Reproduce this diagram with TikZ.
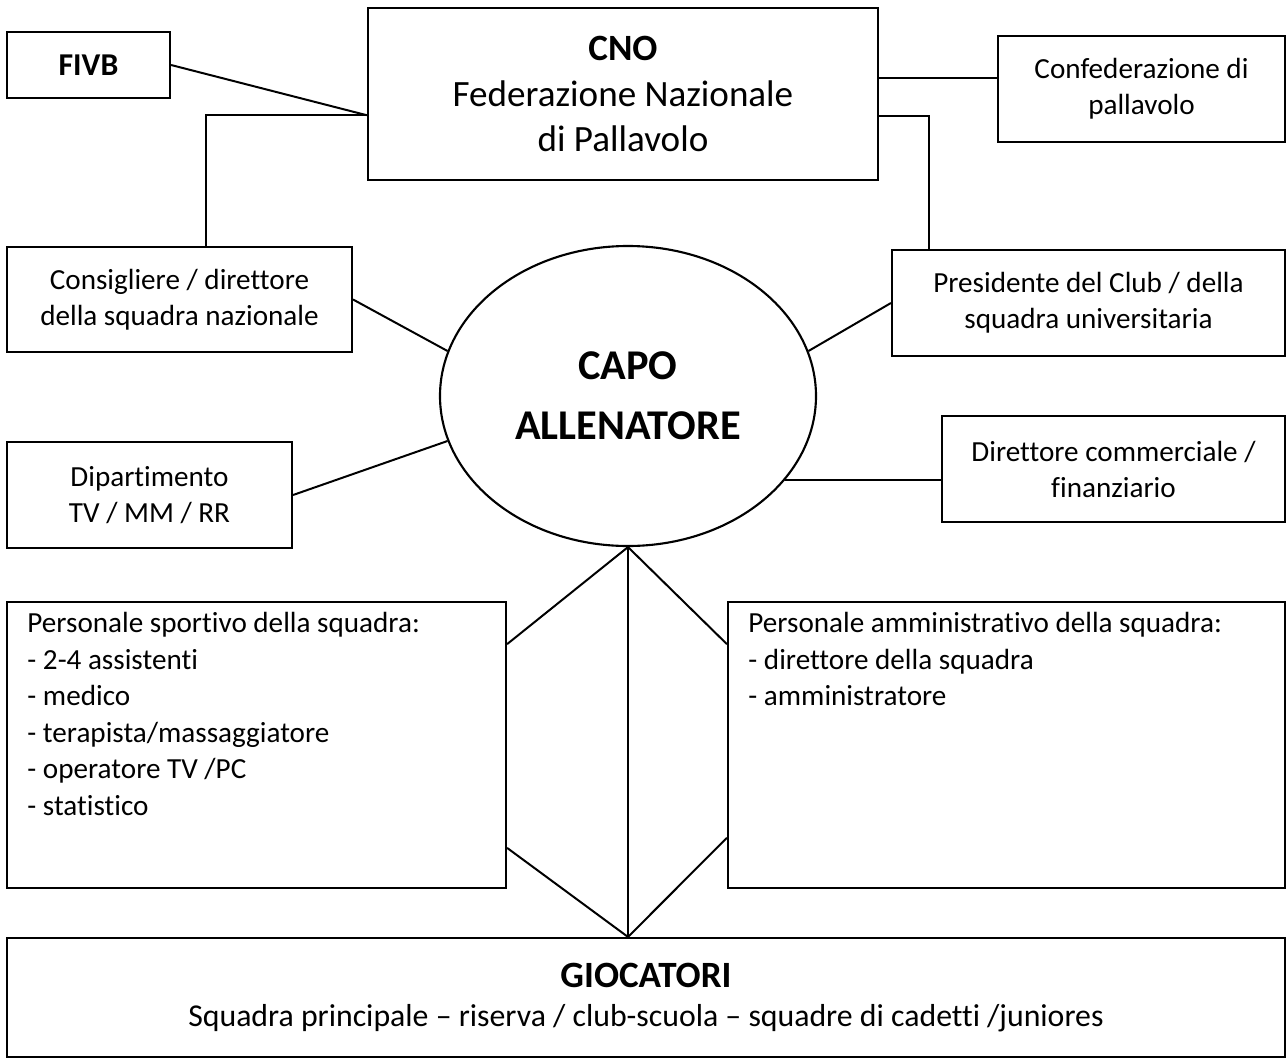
\documentclass[tikz,border=0pt]{standalone}
\usepackage{fontspec}
\setmainfont[Ligatures=NoCommon]{Carlito}
\usepackage{tikz}
\usetikzlibrary{shapes.geometric, calc}
\tikzset{
  obox/.style ={rectangle, draw=black, line width=0.8pt, fill=white, align=center, inner sep=2pt,
                font=\fontsize{11}{13.6}\selectfont},
  boxsize/.style 2 args={minimum width=#1*0.3774pt, minimum height=#2*0.3774pt},
  ocap/.style ={ellipse, draw=black, line width=0.8pt, align=center, inner sep=0pt,
                font=\bfseries\fontsize{16}{22.6}\selectfont},
  olist/.style={anchor=north west, align=left, inner sep=0pt, font=\fontsize{11}{13.8}\selectfont},
  olink/.style={line width=0.75pt, color=black},
}
\begin{document}
\begin{tikzpicture}[x=0.3774pt, y=-0.3774pt]
  \useasboundingbox (0,0) rectangle (1286,1059);
  % top row
  \node[obox, boxsize={163}{66}, font=\bfseries\fontsize{12}{14.6}\selectfont] (fivb) at (88.5,65) {FIVB};
  \node[obox, boxsize={510}{172}, font=\fontsize{14}{17.2}\selectfont] (cno) at (623,94) {\textbf{CNO}\\Federazione Nazionale\\di Pallavolo};
  \node[obox, boxsize={287}{106}] (conf) at (1141.5,89) {Confederazione di\\pallavolo};
  % around the head coach
  \node[obox, boxsize={345}{105}] (cnsg) at (179.5,299.5) {Consigliere / direttore\\della squadra nazionale};
  \node[obox, boxsize={393}{106}] (pres) at (1088.5,303) {Presidente del Club / della\\squadra universitaria};
  \node[ocap, boxsize={376}{300}] (capo) at (628,396) {CAPO\\ALLENATORE};
  \node[obox, boxsize={285}{106}] (dip) at (149.5,495) {Dipartimento\\TV / MM / RR};
  \node[obox, boxsize={343}{106}] (dirc) at (1113.5,469) {Direttore commerciale /\\finanziario};
  % staff
  \node[obox, boxsize={499}{286}] (sport) at (256.5,745) {};
  \node[obox, boxsize={557}{286}] (admin) at (1006.5,745) {};
  \node[olist] (sportlist) at ([shift={(21,11)}]sport.north west) {Personale sportivo della squadra:\\- 2-4 assistenti\\- medico\\- terapista/massaggiatore\\- operatore TV /PC\\- statistico};
  \node[olist] (adminlist) at ([shift={(21,11)}]admin.north west) {Personale amministrativo della squadra:\\- direttore della squadra\\- amministratore};
  % players
  \node[obox, boxsize={1278}{119}, font=\fontsize{12}{14.4}\selectfont] (gioc) at (646,997.5) {{\bfseries\fontsize{14}{17}\selectfont GIOCATORI}\\Squadra principale – riserva / club-scuola – squadre di cadetti /juniores};

  \coordinate (cnoW) at ($(cno.north west)!0.622!(cno.south west)$);
  \coordinate (cnoE) at ($(cno.north east)!0.407!(cno.south east)$);
  \coordinate (cnoF) at ($(cno.north east)!0.628!(cno.south east)$);
  \coordinate (giocT) at (capo.south |- gioc.north);
  \draw[olink] (fivb.east) -- (cnoW);
  \draw[olink] (cnoW) -| ($(cnsg.north west)!0.577!(cnsg.north east)$);
  \draw[olink] (cnoE) -- (cnoE -| conf.west);
  \draw[olink] (cnoF) -| ($(pres.north west)!0.097!(pres.north east)$);
  \draw[olink] (cnsg.east) -- (capo.166);
  \draw[olink] (pres.west) -- (capo.14);
  \draw[olink] (dip.east) -- (capo.194.7);
  \draw[olink] (capo.332.6) -- (capo.332.6 -| dirc.west);
  \draw[olink] (capo.south) -- ($(sport.north east)!0.15!(sport.south east)$);
  \draw[olink] (capo.south) -- ($(admin.north west)!0.15!(admin.south west)$);
  \draw[olink] (capo.south) -- (giocT);
  \draw[olink] ($(sport.north east)!0.857!(sport.south east)$) -- (giocT);
  \draw[olink] ($(admin.north west)!0.822!(admin.south west)$) -- (giocT);
\end{tikzpicture}
\end{document}
